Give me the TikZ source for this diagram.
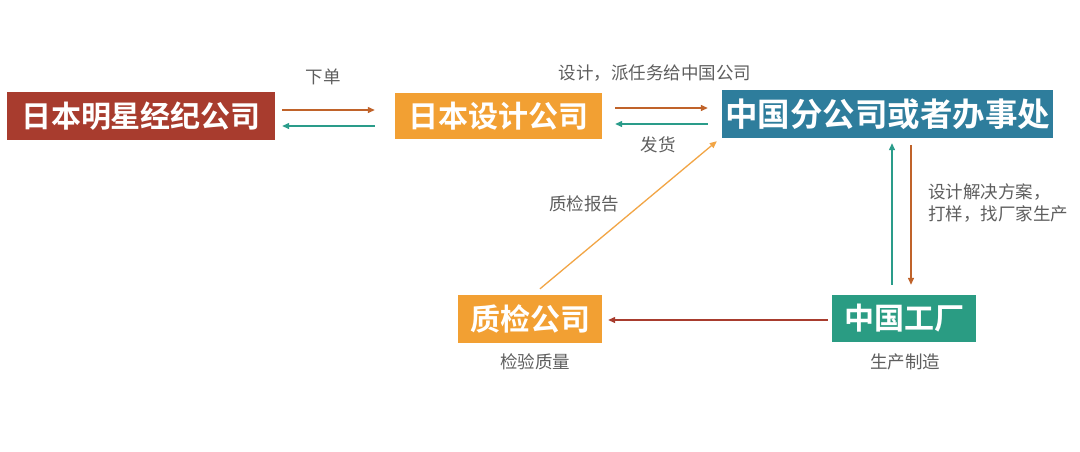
\documentclass[tikz,border=0pt]{standalone}
\usepackage{fontspec}
\setmainfont{Noto Sans CJK SC}
\newfontfamily\cjkbold{Noto Sans CJK SC Bold}
\usetikzlibrary{arrows.meta}
\definecolor{cred}{HTML}{A83C2E}
\definecolor{corange}{HTML}{F2A033}
\definecolor{cblue}{HTML}{2E7D9C}
\definecolor{cteal}{HTML}{2A9C83}
\definecolor{abrown}{HTML}{C0632A}
\definecolor{ateal}{HTML}{2A9C8A}
\definecolor{ared}{HTML}{A83C2E}
\definecolor{aorange}{HTML}{F2A545}
\definecolor{lbl}{HTML}{5E5E5E}
\tikzset{
  boxnode/.style={inner sep=0pt, text=white, font=\cjkbold\fontsize{30}{30}\selectfont},
  lblnode/.style={inner sep=0pt, text=lbl, font=\fontsize{17.5}{22}\selectfont},
  conn/.style={line width=1.3pt, -{Triangle[length=7pt,width=6pt]}}
}
\begin{document}
\begin{tikzpicture}[x=1pt,y=-1pt]
\useasboundingbox[fill=white] (0,0) rectangle (1080,451);
\node[boxnode, fill=cred, minimum width=268pt, minimum height=48pt] (b1) at (141,116) {日本明星经纪公司};
\node[boxnode, fill=corange, minimum width=207pt, minimum height=46pt] (b2) at (498.5,116) {日本设计公司};
\node[boxnode, fill=cblue, minimum width=331pt, minimum height=48pt, font=\cjkbold\fontsize{32.5}{32}\selectfont] (b3) at (887.5,114) {中国分公司或者办事处};
\node[boxnode, fill=corange, minimum width=144pt, minimum height=48pt] (b4) at (530,319) {质检公司};
\node[boxnode, fill=cteal, minimum width=144pt, minimum height=47pt] (b5) at (904,318.5) {中国工厂};

% b1 <-> b2
\draw[conn, abrown] ([xshift=7pt,yshift=6pt]b1.east) -- ([xshift=-20pt,yshift=6pt]b2.west);
\draw[conn, ateal] ([xshift=-20pt,yshift=-10pt]b2.west) -- ([xshift=7pt,yshift=-10pt]b1.east);
% b2 <-> b3
\draw[conn, abrown] ([xshift=13pt,yshift=8pt]b2.east) -- ([xshift=-14pt,yshift=6pt]b3.west);
\draw[conn, ateal] ([xshift=-14pt,yshift=-10pt]b3.west) -- ([xshift=13pt,yshift=-8pt]b2.east);
% b3 <-> b5
\draw[conn, ateal] ([xshift=-12pt,yshift=10pt]b5.north) -- ([xshift=4.5pt,yshift=-5pt]b3.south);
\draw[conn, abrown] ([xshift=23.5pt,yshift=-7pt]b3.south) -- ([xshift=7pt,yshift=10pt]b5.north);
% b5 -> b4
\draw[conn, ared] ([xshift=-4pt,yshift=-1.5pt]b5.west) -- ([xshift=6pt,yshift=-1pt]b4.east);
% b4 -> b3
\draw[conn, aorange] ([xshift=10pt,yshift=6pt]b4.north) -- ([xshift=-5pt,yshift=-3pt]b3.south west);

\node[lblnode] (l1) at (323,77) {下单};
\node[lblnode] (l2) at (655,73) {设计，派任务给中国公司};
\node[lblnode] (l3) at (658,145) {发货};
\node[lblnode] (l4) at (584,204) {质检报告};
\node[lblnode, anchor=west, align=left] (l5) at (928,203) {设计解决方案，\\打样，找厂家生产};
\node[lblnode] (l6) at (535,362) {检验质量};
\node[lblnode] (l7) at (905,362) {生产制造};
\end{tikzpicture}
\end{document}
